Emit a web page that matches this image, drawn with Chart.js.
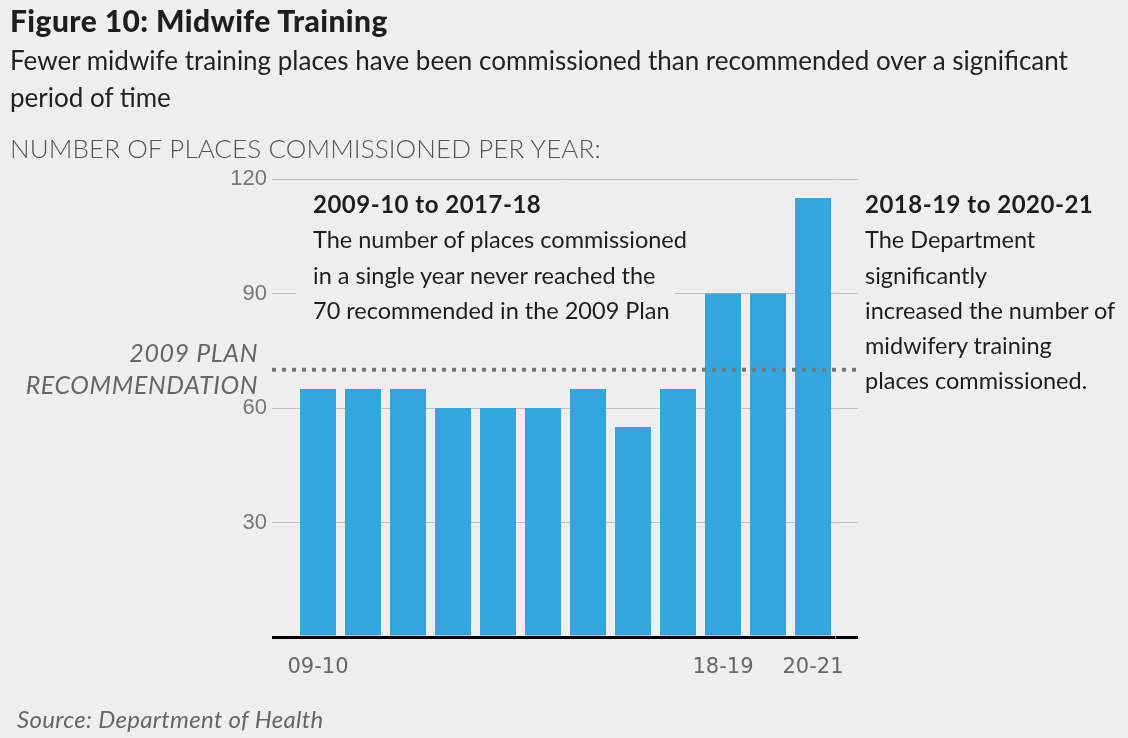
<!DOCTYPE html>
<html>
<head>
<meta charset="utf-8">
<script src="https://cdn.jsdelivr.net/npm/chart.js@4/dist/chart.umd.min.js"></script>
<style>
  html, body { margin:0; padding:0; background:#eeeeee; }
  #wrap { position:relative; width:1128px; height:738px; overflow:hidden; background:#eeeeee; font-family: Lato, "Open Sans", sans-serif; }
  canvas { position:absolute; left:0; top:0; }
  .t { position:absolute; white-space:nowrap; }
  #title { left:10px; top:3px; font-size:30px; line-height:34px; font-weight:900; color:#1e1e1e; letter-spacing:0.4px; }
  #sub { left:10px; top:42px; font-size:26px; line-height:37px; color:#222; }
  #ytitle { left:10px; top:132px; font-size:26px; line-height:32px; color:#555; font-weight:300; letter-spacing:0.1px; }
  #plan { right:870px; top:336px; font-size:25px; line-height:32px; color:#666; font-style:italic; text-align:right; letter-spacing:0.6px; }
  .ann { font-size:23.5px; line-height:35.3px; color:#1e1e1e; }
  .ann b { font-weight:700; font-size:24px; letter-spacing:0.5px; }
  #ann1 { left:296px; top:186px; padding-left:17px; width:362px; background:#eeeeee; overflow:visible; }
  #ann2 { left:865px; top:186px; }
  #src { left:17px; top:705px; font-size:24px; line-height:28px; color:#666; font-style:italic; letter-spacing:0.3px; }
</style>
</head>
<body>
<div id="wrap">
  <canvas id="c" width="1128" height="738"></canvas>
  <div class="t" id="title">Figure 10: Midwife Training</div>
  <div class="t" id="sub">Fewer midwife training places have been commissioned than recommended over a significant<br>period of time</div>
  <div class="t" id="ytitle">NUMBER OF PLACES COMMISSIONED PER YEAR:</div>
  <div class="t" id="plan">2009 PLAN<br>RECOMMENDATION</div>
  <div class="t ann" id="ann1"><b>2009-10 to 2017-18</b><br>The number of places commissioned<br>in a single year never reached the<br>70 recommended in the 2009 Plan</div>
  <div class="t ann" id="ann2"><b>2018-19 to 2020-21</b><br>The Department<br>significantly<br>increased the number of<br>midwifery training<br>places commissioned.</div>
  <div class="t" id="src">Source: Department of Health</div>
</div>
<script>
const categories = ['09-10','10-11','11-12','12-13','13-14','14-15','15-16','16-17','17-18','18-19','19-20','20-21'];
const placesCommissioned = [65, 65, 65, 60, 60, 60, 65, 55, 65, 90, 90, 115];
const shownTickLabels = ['09-10', '18-19', '20-21'];
const yTicks = [0, 30, 60, 90, 120];
const planRecommendation = 70;

const gridColor = ctx => (ctx.tick && ctx.tick.value === 0) ? '#000000' : '#bdbdbd';
const gridWidth = ctx => (ctx.tick && ctx.tick.value === 0) ? 3 : 1;

const planLine = {
  id: 'planLine',
  afterDatasetsDraw(chart) {
    const y = chart.scales.y.getPixelForValue(planRecommendation);
    const c = chart.ctx;
    c.save();
    c.strokeStyle = '#777777';
    c.lineWidth = 4;
    c.setLineDash([4, 6]);
    c.beginPath();
    c.moveTo(chart.scales.y.right - 23.5, y);
    c.lineTo(chart.scales.y2.left + 22.5, y);
    c.stroke();
    c.restore();
  }
};

new Chart(document.getElementById('c'), {
  type: 'bar',
  data: {
    labels: categories,
    datasets: [{
      data: placesCommissioned,
      backgroundColor: '#35a5dd',
      borderWidth: 0,
      barPercentage: 0.8,
      categoryPercentage: 1.0
    }]
  },
  options: {
    responsive: false,
    animation: false,
    devicePixelRatio: 1,
    layout: { padding: { left: 200, right: 270, top: 179, bottom: 51 } },
    plugins: { legend: { display: false }, tooltip: { enabled: false } },
    scales: {
      x: {
        offset: true,
        grid: { display: false },
        border: { display: false },
        ticks: {
          autoSkip: false,
          maxRotation: 0,
          padding: 10,
          color: '#666666',
          font: { family: '"DejaVu Sans", sans-serif', size: 21 },
          callback: function(v, i) { const l = categories[i]; return shownTickLabels.includes(l) ? l : ''; }
        },
        afterFit: s => { s.height = 50; }
      },
      y: {
        min: 0, max: 120,
        afterBuildTicks: s => { s.ticks = yTicks.map(v => ({ value: v })); },
        border: { display: false },
        grid: { color: gridColor, lineWidth: gridWidth, tickColor: gridColor, tickWidth: gridWidth, tickLength: 23.5, drawTicks: true },
        ticks: {
          padding: 5,
          color: '#777777',
          font: { family: '"Liberation Sans", Arial, sans-serif', size: 22 },
          callback: v => v === 0 ? '' : String(v)
        },
        afterFit: s => { s.width = 95.5; }
      },
      y2: {
        position: 'right',
        min: 0, max: 120,
        afterBuildTicks: s => { s.ticks = yTicks.map(v => ({ value: v })); },
        border: { display: false },
        grid: { drawOnChartArea: false, color: gridColor, lineWidth: gridWidth, tickColor: gridColor, tickWidth: gridWidth, tickLength: 22.5, drawTicks: true },
        ticks: { display: false },
        afterFit: s => { s.width = 22.5; }
      }
    }
  },
  plugins: [planLine]
});
</script>
</body>
</html>
